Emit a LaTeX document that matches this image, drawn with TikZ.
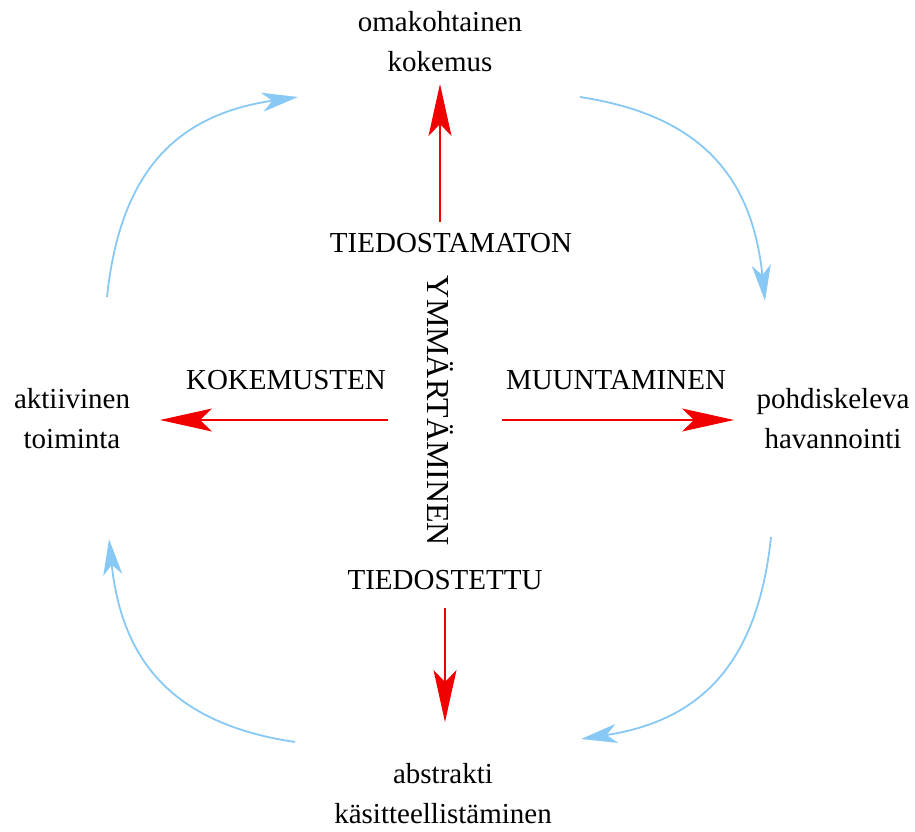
\documentclass[tikz,border=0pt]{standalone}
\usepackage{fontspec}
\setmainfont{Liberation Serif}
\usetikzlibrary{arrows.meta}
\definecolor{redarrow}{RGB}{240,0,0}
\definecolor{bluearc}{RGB}{135,200,245}
\tikzset{
  lbl/.style={font=\fontsize{29}{40}\selectfont, align=center, inner sep=0pt},
  redarr/.style={draw=redarrow, line width=1.2pt, -{Stealth[length=52pt, width=23pt, inset=12pt, fill=redarrow]}},
  bluearr/.style={draw=bluearc, line width=1.8pt, -{Stealth[length=36pt, width=19pt, inset=10pt, fill=bluearc]}}
}
\begin{document}
\begin{tikzpicture}[x=1pt, y=-1pt]
\useasboundingbox (0,0) rectangle (915,832);
% text nodes
\node[lbl] (exp) at (440,42) {omakohtainen\\kokemus};
\node[lbl] (act) at (72,419) {aktiivinen\\toiminta};
\node[lbl] (obs) at (833,419) {pohdiskeleva\\havannointi};
\node[lbl] (abs) at (443,794) {abstrakti\\käsitteellistäminen};
\node[lbl] (unc) at (451,243) {TIEDOSTAMATON};
\node[lbl] (con) at (445,580) {TIEDOSTETTU};
\node[lbl] (kok) at (286,380) {KOKEMUSTEN};
\node[lbl] (muu) at (616,380) {MUUNTAMINEN};
\node[lbl, font=\fontsize{32}{40}\selectfont, rotate=-90] (ymm) at (440,411) {YMMÄRTÄMINEN};
% red arrows
\coordinate (upS) at (440,222); \coordinate (upE) at (440,84);
\coordinate (dnS) at (445,608); \coordinate (dnE) at (445,722);
\coordinate (lfS) at (388,420); \coordinate (lfE) at (160,420);
\coordinate (rtS) at (502,420); \coordinate (rtE) at (734,420);
\draw[redarr] (upS) -- (upE);
\draw[redarr] (dnS) -- (dnE);
\draw[redarr] (lfS) -- (lfE);
\draw[redarr] (rtS) -- (rtE);
% blue arcs
\coordinate (tlS) at (107,297); \coordinate (tlE) at (298,97);
\coordinate (trS) at (580,97);  \coordinate (trE) at (765,301);
\coordinate (brS) at (771,537); \coordinate (brE) at (581,739);
\coordinate (blS) at (295,742); \coordinate (blE) at (109,539);
\draw[bluearr] (tlS) .. controls (120,174) and (174,115) .. (tlE);
\draw[bluearr] (trS) .. controls (698,115) and (752,174) .. (trE);
\draw[bluearr] (brS) .. controls (758,660) and (704,720) .. (brE);
\draw[bluearr] (blS) .. controls (174,724) and (122,662) .. (blE);
\end{tikzpicture}
\end{document}
